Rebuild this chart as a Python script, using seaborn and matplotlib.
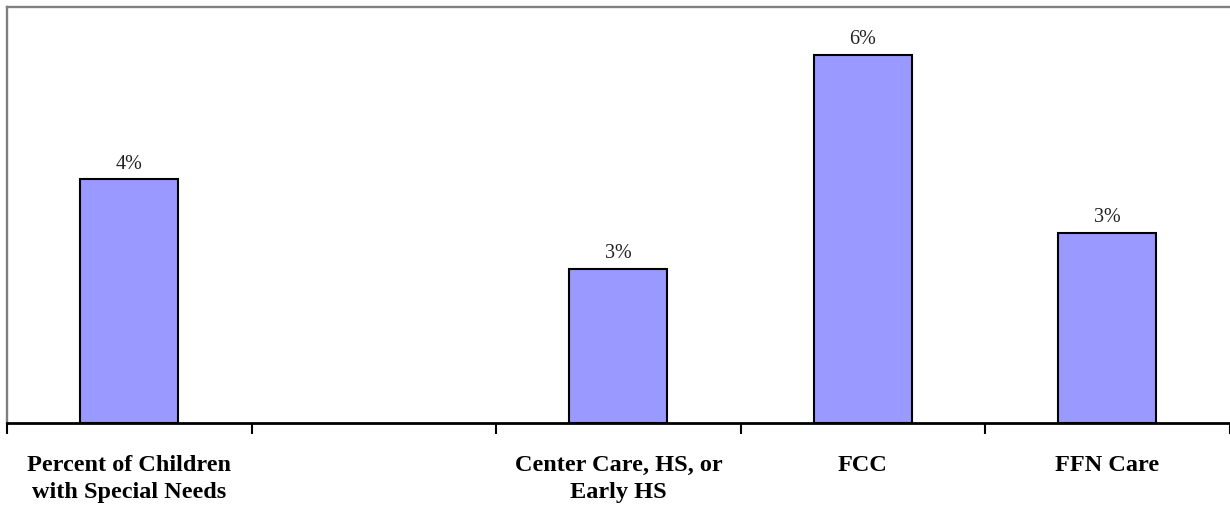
import seaborn as sns
import matplotlib.pyplot as plt
import numpy as np
import pandas as pd

# categories (second slot is empty in the original chart)
categories = ["Percent of Children\nwith Special Needs", " ", "Center Care, HS, or\nEarly HS", "FCC", "FFN Care"]
shares = [0.041, np.nan, 0.026, 0.062, 0.032]

df = pd.DataFrame({"group": categories, "share": shares})

sns.set_style("white")
plt.rcParams["font.family"] = ["Liberation Serif", "DejaVu Serif"]

fig = plt.figure(figsize=(12.3, 5.08), dpi=100)
ax = fig.add_axes([0.0057, 0.1673, 0.994, 0.8188])

sns.barplot(data=df, x="group", y="share", order=categories, color="#9999FF",
            saturation=1, width=0.4, edgecolor="black", linewidth=1.5, ax=ax)

for cont in ax.containers:
    labels = ["" if np.isnan(v) else f"{v * 100:.0f}%" for v in cont.datavalues]
    ax.bar_label(cont, labels=labels, padding=4, fontsize=14.5, color="#222222")

ax.set_xlim(-0.5, len(categories) - 0.5)
ax.set_ylim(0, 0.07)
ax.set_xlabel("")
ax.set_ylabel("")
ax.set_yticks([])

# tick marks sit between the category slots
ax.set_xticks(np.arange(-0.5, len(categories) + 0.5, 1), minor=True)
ax.tick_params(axis="x", which="minor", direction="out", length=8, width=1.5, color="black", bottom=True)
ax.tick_params(axis="x", which="major", length=0, pad=23, labelsize=17.5, labelcolor="black")
for t in ax.get_xticklabels():
    t.set_fontweight("bold")
    t.set_linespacing(1.35)

ax.spines["left"].set_color("#808080")
ax.spines["left"].set_linewidth(1.7)
ax.spines["top"].set_color("#808080")
ax.spines["top"].set_linewidth(1.7)
ax.spines["right"].set_visible(False)
ax.spines["bottom"].set_color("black")
ax.spines["bottom"].set_linewidth(2)

plt.savefig("out.png", dpi=100)
